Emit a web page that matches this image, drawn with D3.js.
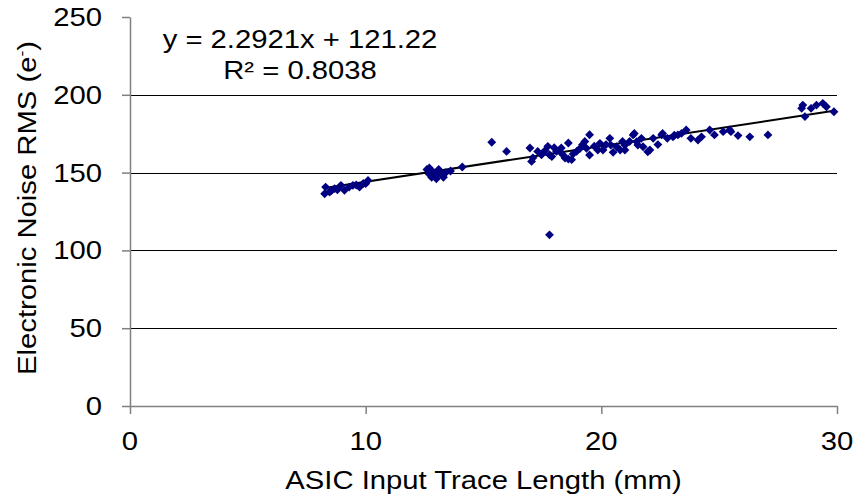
<!DOCTYPE html>
<meta charset="utf-8">
<title>Noise vs trace length</title>
<style>
  body { margin: 0; background: #fff; }
  text { font-family: "Liberation Sans", Arial, sans-serif; fill: #000; }
  .grid line { stroke: #000; stroke-width: 1px; }
  .axis path, .axis line { stroke: #808080; stroke-width: 1.5px; }
</style>
<svg width="859" height="499"></svg>
<script src="https://cdn.jsdelivr.net/npm/d3@7"></script>
<script>
  // trace length (mm)
  var traceLength = [
    8.26, 8.3, 8.47, 8.55, 8.68, 8.8, 8.95, 9.1, 9.3, 9.46, 9.6, 9.74, 9.9, 10.0, 10.1,
    12.6, 12.7, 12.7, 12.8, 12.8, 12.9, 13.0, 13.0, 13.1, 13.2, 13.3, 13.4, 13.6, 14.1,
    15.35, 15.98,
    16.97, 17.04, 17.1, 17.3, 17.46, 17.73, 17.8, 17.9, 18.1, 18.24, 18.3, 18.46, 18.6, 18.6,
    18.74, 18.95, 19.1, 19.2, 19.37, 19.5, 19.5, 19.85, 19.94, 20.07, 20.36, 20.4, 20.65,
    20.8, 21.0, 21.0, 21.35, 21.4, 21.5, 21.55, 21.77, 21.97, 22.06, 22.2, 22.56, 22.6,
    22.8, 23.04, 23.25, 23.4, 23.6, 23.8, 24.1, 24.25, 24.6, 24.8, 25.17, 25.45, 25.5,
    25.8, 26.3, 27.07,
    28.5, 28.55, 28.64, 28.9, 29.13, 29.4, 29.55, 29.87,
    17.6, 18.0, 18.4, 18.8, 19.3, 19.7, 20.2, 20.5, 20.9, 21.2, 21.7, 22.4, 23.1,
    17.8
  ];
  // electronic noise RMS (e-)
  var noiseRms = [
    136.4, 140.7, 137.5, 138.5, 139.7, 139.0, 141.8, 138.6, 140.7, 141.8, 142.0, 140.7, 143.0, 142.9, 145.0,
    152.0, 149.0, 153.0, 147.0, 151.0, 150.0, 148.0, 146.0, 152.0, 149.0, 147.0, 150.0, 151.0, 153.6,
    169.5, 163.6,
    165.8, 157.2, 159.5, 163.6, 161.5, 166.9, 161.5, 160.3, 163.6, 163.5, 165.8, 159.4, 169.0, 158.7,
    158.3, 163.6, 165.6, 167.9, 165.6, 174.3, 161.3, 164.5, 168.8, 164.5, 172.0, 167.7, 166.6,
    164.5, 167.7, 164.5, 174.2, 175.2, 169.9, 167.7, 166.6, 163.4, 164.5, 172.0, 174.2, 175.2,
    172.0, 173.0, 174.2, 175.2, 177.4, 172.0, 170.9, 173.0, 177.4, 174.2, 176.3, 177.4, 176.3,
    173.8, 173.0, 174.2,
    191.3, 193.4, 186.0, 191.3, 193.4, 194.5, 192.3, 189.1,
    164.0, 166.0, 161.0, 162.0, 170.0, 167.0, 168.0, 163.0, 170.0, 170.0, 172.0, 168.0, 174.0,
    110.0
  ];
  var xTicks = [0, 10, 20, 30];
  var yTicks = [0, 50, 100, 150, 200, 250];
  var gridTicks = [50, 100, 150, 200];
  var slope = 2.2921, intercept = 121.22;
  var equationLines = ["y = 2.2921x + 121.22", "R\u00b2 = 0.8038"];

  var svg = d3.select("svg");
  var plotLeft = 130, plotRight = 837, plotTop = 17, plotBottom = 406;
  var fontSize = 25, stretch = 1.17;   // the source font renders wider than Arial

  var x = d3.scaleLinear().domain([0, 30]).range([plotLeft, plotRight]);
  var y = d3.scaleLinear().domain([0, 250]).range([plotBottom, plotTop]);

  var points = traceLength.map(function(d, i) { return { x: d, y: noiseRms[i] }; });

  function label(px, py, anchor, str, rot) {
    return svg.append("text")
      .attr("transform", "translate(" + px + "," + py + ")" + (rot ? " rotate(" + rot + ")" : "") +
        " scale(" + stretch + ",1)")
      .attr("text-anchor", anchor)
      .style("font-size", fontSize + "px")
      .text(str);
  }

  svg.append("g")
    .attr("class", "grid")
    .selectAll("line")
    .data(gridTicks)
    .enter().append("line")
    .attr("x1", plotLeft).attr("x2", plotRight)
    .attr("y1", function(d) { return Math.round(y(d)) + 0.5; })
    .attr("y2", function(d) { return Math.round(y(d)) + 0.5; });

  svg.append("g")
    .attr("class", "axis")
    .attr("transform", "translate(" + plotLeft + ",0)")
    .call(d3.axisLeft(y).tickValues(yTicks).tickSize(8).tickSizeOuter(0).tickFormat(""));

  svg.append("g")
    .attr("class", "axis")
    .attr("transform", "translate(0," + plotBottom + ")")
    .call(d3.axisBottom(x).tickValues(xTicks).tickSize(8).tickSizeOuter(0).tickFormat(""));

  yTicks.forEach(function(v) { label(102, y(v) + 9, "end", v); });
  xTicks.forEach(function(v) { label(x(v), 450, "middle", v); });

  // trendline over the data range
  var xExt = d3.extent(traceLength);
  svg.append("line")
    .attr("x1", x(xExt[0])).attr("y1", y(slope * xExt[0] + intercept))
    .attr("x2", x(xExt[1])).attr("y2", y(slope * xExt[1] + intercept))
    .attr("stroke", "#000")
    .attr("stroke-width", 2);

  var diamond = d3.symbol().type(d3.symbolDiamond2 || d3.symbolDiamond).size(50);

  svg.append("g")
    .selectAll("path")
    .data(points)
    .enter().append("path")
    .attr("d", diamond)
    .attr("transform", function(d) { return "translate(" + x(d.x) + "," + y(d.y) + ")"; })
    .attr("fill", "#000080");

  equationLines.forEach(function(s, i) { label(300, 48 + i * 31, "middle", s); });

  label((plotLeft + plotRight) / 2, 489, "middle", "ASIC Input Trace Length (mm)");

  var yTitle = label(36, 208, "middle", "", -90);
  yTitle.append("tspan").text("Electronic Noise RMS (e");
  yTitle.append("tspan").attr("dy", -9).style("font-size", "15px").text("-");
  yTitle.append("tspan").attr("dy", 9).text(")");
</script>
